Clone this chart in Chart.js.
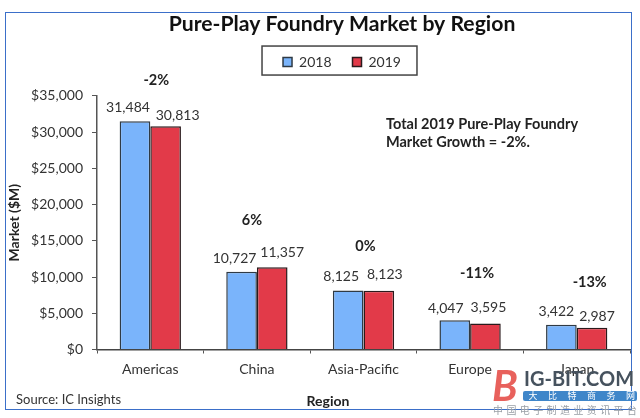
<!DOCTYPE html>
<html>
<head>
<meta charset="utf-8">
<title>Pure-Play Foundry Market by Region</title>
<script src="https://cdn.jsdelivr.net/npm/chart.js@4/dist/chart.umd.min.js"></script>
<style>
  html, body { margin: 0; padding: 0; background: #fff; }
  #wrap { position: relative; width: 640px; height: 418px; overflow: hidden; }
  #border { position: absolute; left: 5px; top: 12px; width: 627px; height: 398px; box-sizing: border-box; border: 1.5px solid #3b6fc9; }
  canvas { position: absolute; left: 0; top: 0; }
</style>
</head>
<body>
<div id="wrap">
  <div id="border"></div>
  <canvas id="chart" width="640" height="418"></canvas>
</div>
<script>
// 地域別の市場規模（$M）
const regions = ['Americas', 'China', 'Asia-Pacific', 'Europe', 'Japan'];
const market2018 = [31484, 10727, 8125, 4047, 3422];
const market2019 = [30813, 11357, 8123, 3595, 2987];
const growthLabels = ['-2%', '6%', '0%', '-11%', '-13%'];

// ラベルはバー上端からのズレで置く
const labelShift2018 = [[-7, -14], [-7, -13], [-7, -14], [-9, -12], [-5, -13]];
const labelShift2019 = [[12, -11], [10, -15], [6, -16], [3, -16], [5, -11]];
const growthShift = [[6, -41], [-5, -47], [2, -44], [7, -47], [13, -42]];

const FONT = 'Lato, "Open Sans", sans-serif';
const INK = '#333';

function text(ctx, str, x, y, font, color, align) {
  ctx.font = font;
  ctx.fillStyle = color;
  ctx.textAlign = align || 'center';
  ctx.textBaseline = 'middle';
  ctx.fillText(str, x, y);
}

const extras = {
  id: 'extras',
  afterLayout(chart) {
    // 目盛ラベルが切れないよう y 軸の箱を左端まで広げる
    chart.scales.y.left = 0;
  },
  afterDatasetsDraw(chart) {
    const { ctx } = chart;
    ctx.save();

    // 凡例の枠
    const hit = chart.legend.legendHitBoxes;
    const last = hit[hit.length - 1];
    const midY = hit[0].top + 6;
    const boxLeft = hit[0].left - 21;
    const boxRight = last.left + last.width + 16;
    ctx.strokeStyle = '#444';
    ctx.lineWidth = 1.5;
    ctx.strokeRect(boxLeft, midY - 15, boxRight - boxLeft, 29);

    const a = chart.getDatasetMeta(0).data;
    const b = chart.getDatasetMeta(1).data;
    const labelFont = `14px ${FONT}`;
    regions.forEach((_, i) => {
      text(ctx, market2018[i].toLocaleString('en-US'), a[i].x + labelShift2018[i][0], a[i].y + labelShift2018[i][1], labelFont, INK);
      text(ctx, market2019[i].toLocaleString('en-US'), b[i].x + labelShift2019[i][0], b[i].y + labelShift2019[i][1], labelFont, INK);
      const mid = (a[i].x + b[i].x) / 2;
      text(ctx, growthLabels[i], mid + growthShift[i][0], Math.min(a[i].y, b[i].y) + growthShift[i][1], `bold 14.5px ${FONT}`, '#222');
    });

    text(ctx, 'Total 2019 Pure-Play Foundry', 386, 124, `bold 14.5px ${FONT}`, '#222', 'left');
    text(ctx, 'Market Growth = -2%.', 386, 142, `bold 14.5px ${FONT}`, '#222', 'left');
    text(ctx, 'Source: IC Insights', 16, 400, `13px ${FONT}`, INK, 'left');
    text(ctx, 'Region', 328, 401, `bold 14px ${FONT}`, '#222');

    // 右下の透かし
    text(ctx, 'B', 505, 387, `italic bold 42px ${FONT}`, '#e8615c');
    text(ctx, 'IG-BIT.COM', 524, 380, `bold 20px ${FONT}`, '#46525e', 'left');
    ctx.fillStyle = '#3f86c9';
    ctx.beginPath();
    ctx.roundRect(523, 391, 114, 10, 2);
    ctx.fill();
    ['大', '比', '特', '商', '务', '网'].forEach((c, i) => {
      text(ctx, c, 533 + i * 19.5, 396, '9px "Noto Sans CJK SC"', '#fff');
    });
    ['中', '国', '电', '子', '制', '造', '业', '资', '讯', '平', '台'].forEach((c, i) => {
      text(ctx, c, 498 + i * 13.4, 410, '10px "Noto Sans CJK SC"', '#9aa0a6');
    });
    ctx.restore();
  },
};

new Chart(document.getElementById('chart').getContext('2d'), {
  type: 'bar',
  data: {
    labels: regions,
    datasets: [
      { label: '2018', data: market2018, backgroundColor: '#7ab4fb', borderColor: '#2f3a44', borderWidth: 1.5 },
      { label: '2019', data: market2019, backgroundColor: '#e23a49', borderColor: '#2a1a1c', borderWidth: 1.5 },
    ],
  },
  options: {
    responsive: false,
    animation: false,
    layout: { padding: { left: 54, right: 10, top: 11, bottom: 0 } },
    datasets: { bar: { barPercentage: 1, categoryPercentage: 0.575 } },
    plugins: {
      tooltip: { enabled: false },
      title: {
        display: true,
        text: 'Pure-Play Foundry Market by Region',
        color: '#111',
        font: { family: FONT, size: 21.2, weight: 'bold', lineHeight: 1.2 },
        padding: { top: 0, bottom: -2.4 },
      },
      // 凡例とプロットの間を空けるだけの空サブタイトル
      subtitle: {
        display: true,
        text: '',
        weight: 500,
        font: { family: FONT, size: 10, lineHeight: 1.2 },
        padding: { top: 0, bottom: 4.8 },
      },
      legend: {
        display: true,
        position: 'top',
        labels: {
          color: INK,
          font: { family: FONT, size: 14 },
          boxWidth: 9,
          boxHeight: 9,
          padding: 21,
        },
      },
    },
    scales: {
      x: {
        afterFit: s => { s.height = 68.5; },
        grid: { drawOnChartArea: false, color: '#555', tickLength: 4, offset: true },
        border: { color: '#444', width: 1.5 },
        ticks: { color: INK, font: { family: FONT, size: 14 }, padding: 8, maxRotation: 0 },
      },
      y: {
        min: 0,
        max: 35000,
        afterFit: s => { s.width = 43; },
        grid: { drawOnChartArea: false, color: '#555', tickLength: 5 },
        border: { color: '#555', width: 1.5 },
        ticks: {
          stepSize: 5000,
          color: INK,
          font: { family: FONT, size: 14 },
          padding: 9,
          callback: v => '$' + v.toLocaleString('en-US'),
        },
        title: {
          display: true,
          text: 'Market ($M)',
          color: '#222',
          font: { family: FONT, size: 14, weight: 'bold' },
          padding: { top: 6, bottom: 0 },
        },
      },
    },
  },
  plugins: [extras],
});
</script>
</body>
</html>
